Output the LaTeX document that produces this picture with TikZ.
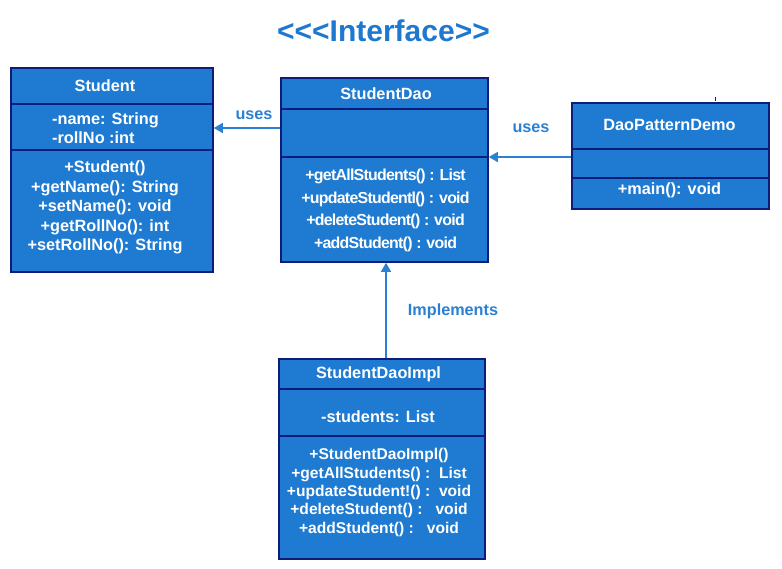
\documentclass[tikz,border=0pt]{standalone}
\usepackage{fontspec}
\setmainfont{Liberation Sans}
\newfontfamily\condfont[LetterSpace=-4.6]{Liberation Sans}
\usetikzlibrary{arrows.meta,calc}
\definecolor{boxfill}{HTML}{1E7BD1}
\definecolor{boxline}{HTML}{0C1C78}
\definecolor{linkblue}{HTML}{2A80D3}
\definecolor{titleblue}{HTML}{1E78CF}
\tikzset{
  comp/.style={draw=boxline, fill=boxfill, line width=1.8pt, inner sep=0pt, anchor=north west},
  txt/.style={text=white, font=\fontsize{16.3}{19}\selectfont\bfseries, inner sep=0pt, align=center},
  lbl/.style={text=linkblue, font=\fontsize{16.2}{18}\selectfont\bfseries, inner sep=0pt},
  arr/.style={draw=linkblue, line width=1.6pt, -{Triangle[length=9pt,width=10pt]}},
}
\begin{document}
\begin{tikzpicture}[x=1pt,y=-1pt]
\useasboundingbox[fill=white] (0,0) rectangle (782,568);

% title
\node[text=titleblue, font=\fontsize{30}{34}\selectfont\bfseries, inner sep=0pt] (title) at (383.5,30.5) {<\kern0pt<\kern0pt<Interface>\kern0pt>};

% Student
\node[comp, minimum width=202pt, minimum height=36pt] (sth) at (10,67) {};
\node[comp, minimum width=202pt, minimum height=46pt] (sta) at (10,103) {};
\node[comp, minimum width=202pt, minimum height=122pt] (stm) at (10,149) {};
\node[txt] (stt) at (105,86) {Student};
\node[txt, align=left, anchor=west] (stat) at (52,128.5) {-name: String\\-rollNo :int};
\node[txt, font=\fontsize{16.3}{19.5}\selectfont\bfseries] (stmt) at (105,207.5) {+Student()\\+getName(): String\\+setName(): void\\+getRollNo(): int\\+setRollNo(): String};

% StudentDao
\node[comp, minimum width=207pt, minimum height=31pt] (daoh) at (280,77) {};
\node[comp, minimum width=207pt, minimum height=48pt] (daoa) at (280,108) {};
\node[comp, minimum width=207pt, minimum height=105pt] (daom) at (280,156) {};
\node[txt] (daot) at (386,94) {StudentDao};
\node[txt, font=\condfont\fontsize{15.9}{22.7}\selectfont\bfseries] (daomt) at (385.5,210.5) {+getAllStudents() : List\\+updateStudentl() : void\\+deleteStudent() : void\\+addStudent() : void};

% DaoPatternDemo
\node[comp, minimum width=197pt, minimum height=46pt] (demoh) at (571,102) {};
\node[comp, minimum width=197pt, minimum height=29pt] (demoa) at (571,148) {};
\node[comp, minimum width=197pt, minimum height=31pt] (demom) at (571,177) {};
\node[txt] (demot) at (669.5,125) {DaoPatternDemo};
\node[txt] (demomt) at (669.5,190) {+main(): void};
\draw[boxline, line width=1pt] (715,97) -- (715,101);

% StudentDaoImpl
\node[comp, minimum width=206pt, minimum height=30pt] (implh) at (278,358) {};
\node[comp, minimum width=206pt, minimum height=47pt] (impla) at (278,388) {};
\node[comp, minimum width=206pt, minimum height=123pt] (implm) at (278,435) {};
\node[txt] (implt) at (378.5,374.5) {StudentDaoImpl};
\node[txt] (implat) at (378,417) {-students: List};
\node[txt, font=\fontsize{15.6}{18.3}\selectfont\bfseries] (implmt) at (379,492.5) {+StudentDaoImpl()\\+getAllStudents() :\ \ List\\+updateStudent!() :\ \ void\\+deleteStudent() :\ \ \ void\\+addStudent() :\ \ \ void};

% connectors
\draw[arr] (daoa.west |- 0,128) -- (sta.east |- 0,128);
\node[lbl] (uses1) at (254,115.5) {uses};
\draw[arr] (demoa.west |- 0,157) -- (daoa.east |- 0,157);
\node[lbl] (uses2) at (531,128.5) {uses};
\draw[arr] (implh.north -| 386,0) -- (daom.south -| 386,0);
\node[lbl] (impl) at (453,311.5) {Implements};
\end{tikzpicture}
\end{document}
